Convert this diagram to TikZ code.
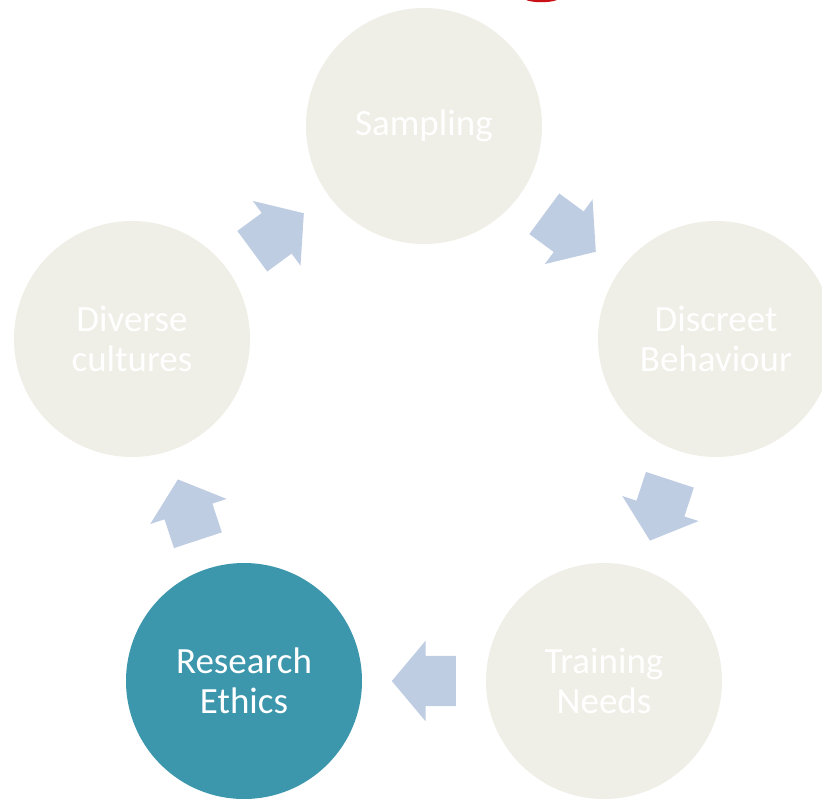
\documentclass[tikz,border=0pt]{standalone}
\usepackage{fontspec}
\setmainfont{Carlito}
\usepackage{tikz}
\usetikzlibrary{positioning}
\usetikzlibrary{calc,shapes.arrows}

\definecolor{stepgrey}{RGB}{239,239,231}
\definecolor{ethicsteal}{RGB}{60,150,172}
\definecolor{arrowblue}{RGB}{190,205,226}
\definecolor{markred}{RGB}{200,16,22}

\tikzset{
  stage/.style={circle, fill=stepgrey, minimum size=236pt, inner sep=0pt,
                text=white, align=center,
                font=\fontsize{37pt}{40pt}\selectfont},
  blockarrow/.style={single arrow, fill=arrowblue, anchor=tail,
                     inner xsep=0pt, inner ysep=25pt,
                     minimum height=64pt,
                     single arrow head extend=15pt,
                     single arrow tip angle=100,
                     single arrow head indent=0pt}
}

\begin{document}
\begin{tikzpicture}[x=1pt,y=1pt]

	\useasboundingbox (0,0) rectangle (822,-798);

	%Stages
	\node[stage] (Samp) at (424,-126) {Sampling};

	\node[stage] (Disc) at (716,-339) {Discreet\\Behaviour};

	\node[stage] (Train) at (604,-681) {Training\\Needs};

	\node[stage, fill=ethicsteal] (Ethic) at (244,-681) {Research\\Ethics};

	\node[stage] (Divers) at (132,-339) {Diverse\\cultures};

	%%%%%%%%%%%%%%%%%%%%%%%%%%%%%%%%%%%%%%%%%%%%%%%%%%%%
	%Arrows between the stages (tail set back 32pt from the midpoint)
	\node[blockarrow, rotate=-36.4] (A1) at ($($(Samp)!0.5!(Disc)$)!32pt!(Samp)$) {};
	\node[blockarrow, rotate=-108.2] (A2) at ($($(Disc)!0.5!(Train)$)!32pt!(Disc)$) {};
	\node[blockarrow, rotate=180] (A3) at ($($(Train)!0.5!(Ethic)$)!32pt!(Train)$) {};
	\node[blockarrow, rotate=108.2] (A4) at ($($(Ethic)!0.5!(Divers)$)!32pt!(Ethic)$) {};
	\node[blockarrow, rotate=36.4] (A5) at ($($(Divers)!0.5!(Samp)$)!32pt!(Divers)$) {};

	%Red mark cut by the top edge
	\draw[markred, line width=2.5pt] (525,2) arc[start angle=195, end angle=345, x radius=17, y radius=4];

\end{tikzpicture}
\end{document}
